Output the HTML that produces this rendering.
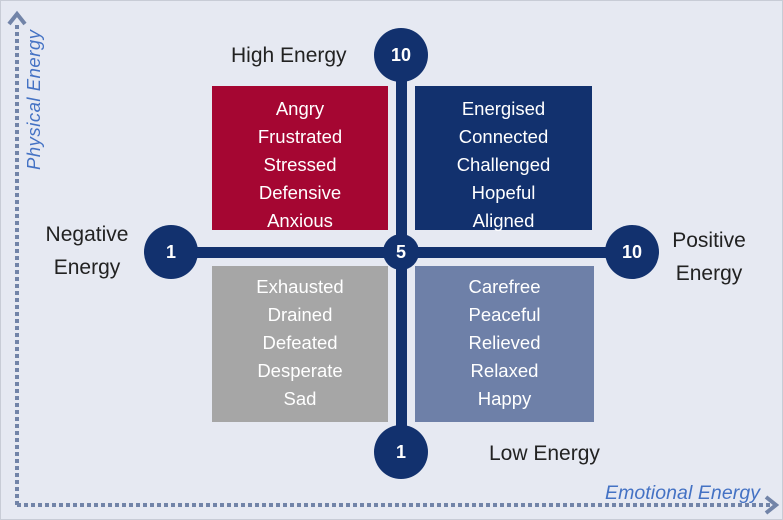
<!DOCTYPE html>
<html><head><style>
body{margin:0;width:783px;height:520px;background:#e6e9f2;position:relative;overflow:hidden;font-family:"Liberation Sans",sans-serif}
.b{position:absolute;color:#fff;text-align:center;font-size:18.5px;line-height:28px;padding-top:9px;box-sizing:border-box}
.t{position:absolute;font-size:21px;color:#222;line-height:33px}
</style></head><body>
<div style="position:absolute;left:0;top:0;width:781px;height:518px;border:1px solid #c8ccd6"></div>
<div class="b" style="left:212px;top:86px;width:176px;height:144px;background:#a50632">Angry<br>Frustrated<br>Stressed<br>Defensive<br>Anxious</div>
<div class="b" style="left:415px;top:86px;width:177px;height:144px;background:#12316e">Energised<br>Connected<br>Challenged<br>Hopeful<br>Aligned</div>
<div class="b" style="left:212px;top:266px;width:176px;height:156px;background:#a6a6a6;padding-top:7px">Exhausted<br>Drained<br>Defeated<br>Desperate<br>Sad</div>
<div class="b" style="left:415px;top:266px;width:179px;height:156px;background:#6e80a8;padding-top:7px">Carefree<br>Peaceful<br>Relieved<br>Relaxed<br>Happy</div>
<svg width="783" height="520" style="position:absolute;left:0;top:0">
<g fill="#12316e">
<rect x="396" y="55" width="11" height="400"/>
<rect x="170" y="247" width="462" height="11"/>
<circle cx="401" cy="55" r="27"/><circle cx="401" cy="452" r="27"/>
<circle cx="171" cy="252" r="27"/><circle cx="632" cy="252" r="27"/>
<circle cx="401" cy="252" r="18"/>
</g>
<g fill="#fff" font-size="18" font-weight="bold" text-anchor="middle" font-family="Liberation Sans">
<text x="401" y="61">10</text><text x="401" y="458">1</text>
<text x="171" y="258">1</text><text x="632" y="258">10</text><text x="401" y="258">5</text>
</g>
<g stroke="#7284a8" stroke-width="4" stroke-dasharray="4 3" fill="none">
<line x1="17" y1="505" x2="17" y2="22"/><line x1="17" y1="505" x2="770" y2="505"/>
</g>
<g stroke="#7284a8" stroke-width="4" fill="none">
<polyline points="9,24 17,14 25,24"/><polyline points="766,497 776,505 766,513"/>
</g>
<text x="605" y="499" fill="#4472c4" font-size="19.5" font-style="italic" font-family="Liberation Sans" textLength="155">Emotional Energy</text>
<text transform="translate(40,170) rotate(-90)" fill="#4472c4" font-size="18.5" font-style="italic" font-family="Liberation Sans" textLength="140">Physical Energy</text>
</svg>
<div class="t" style="left:231px;top:39px">High Energy</div>
<div class="t" style="left:489px;top:437px">Low Energy</div>
<div class="t" style="top:218px;text-align:center;width:90px;left:42px">Negative<br>Energy</div>
<div class="t" style="left:666px;top:224px;text-align:center;width:86px">Positive<br>Energy</div>
</body></html>
